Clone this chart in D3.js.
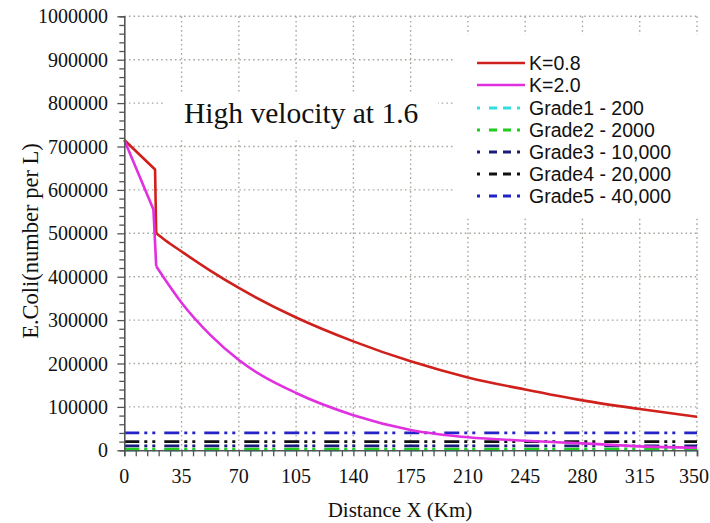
<!DOCTYPE html>
<html>
<head>
<meta charset="utf-8">
<script src="https://cdn.jsdelivr.net/npm/d3@7"></script>
<style>
  html, body { margin: 0; padding: 0; background: #fff; }
  svg { display: block; }
</style>
</head>
<body>
<svg id="chart" width="710" height="523"></svg>
<script>
// ---- data ----
const xTicks = [0, 35, 70, 105, 140, 175, 210, 245, 280, 315, 350];
const yTicks = [0, 100000, 200000, 300000, 400000, 500000, 600000, 700000, 800000, 900000, 1000000];

const distK08 = [0, 18.8, 19.5, 25, 35, 52.5, 70, 105, 140, 175, 210, 245, 280, 315, 350];
const valK08  = [715000, 647000, 500000, 484000, 458000, 414000, 374000, 306000, 251000, 205000, 168000, 140000, 115000, 95000, 77000];

const distK20 = [0, 17.8, 19.5, 25, 35, 52.5, 70, 105, 140, 175, 210, 245, 280, 315, 350];
const valK20  = [715000, 555000, 424000, 393000, 340000, 266000, 208000, 132000, 81000, 47000, 30000, 22000, 16000, 9000, 6000];

const gradeNames  = ["Grade1 - 200", "Grade2 - 2000", "Grade3 - 10,000", "Grade4 - 20,000", "Grade5 - 40,000"];
const gradeValues = [200, 2000, 10000, 20000, 40000];
const gradeColors = ["#33dede", "#1fcc1f", "#1c1c7a", "#111111", "#2323c8"];

const seriesNames  = ["K=0.8", "K=2.0"];
const seriesColors = ["#d0201c", "#e030e0"];

// ---- layout ----
const svg = d3.select("#chart");
const x = d3.scaleLinear().domain([0, 350]).range([124.3, 697]);
const y = d3.scaleLinear().domain([0, 1000000]).range([450.3, 16.3]);
const serif = "'Liberation Serif', 'Times New Roman', serif";
const sans = "'Liberation Sans', Arial, sans-serif";

// grid
const grid = svg.append("g").attr("stroke", "#a8a8a0").attr("stroke-width", 1.4).attr("stroke-dasharray", "1.6,3");
xTicks.filter(d => d > 0).forEach(d => {
  grid.append("line").attr("x1", x(d)).attr("x2", x(d)).attr("y1", y(0)).attr("y2", y(1000000));
});
yTicks.filter(d => d > 0).forEach(d => {
  grid.append("line").attr("x1", x(0)).attr("x2", x(350)).attr("y1", y(d)).attr("y2", y(d));
});

// white boxes (annotation + legend) covering the grid
svg.append("rect").attr("x", 163).attr("y", 92).attr("width", 275).attr("height", 46).attr("fill", "#fff");
svg.append("rect").attr("x", 455).attr("y", 35).attr("width", 250).attr("height", 182).attr("fill", "#fff");

// grade lines
const dashPat = "15,5,3,5,3,9";
gradeValues.forEach((v, i) => {
  svg.append("line")
    .attr("x1", x(0)).attr("x2", x(350))
    .attr("y1", y(v)).attr("y2", y(v))
    .attr("stroke", gradeColors[i])
    .attr("stroke-width", i === 1 ? 3.2 : 2.8)
    .attr("stroke-dasharray", dashPat);
});

// series lines: straight initial part + smooth decay part
function drawSeries(dist, vals, color, splitIdx) {
  const pts = dist.map((d, i) => [d, vals[i]]);
  const lin = d3.line().x(d => x(d[0])).y(d => y(d[1]));
  const smooth = d3.line().x(d => x(d[0])).y(d => y(d[1])).curve(d3.curveMonotoneX);
  svg.append("path").attr("d", lin(pts.slice(0, splitIdx + 1)))
    .attr("fill", "none").attr("stroke", color).attr("stroke-width", 2.6).attr("stroke-linejoin", "round");
  svg.append("path").attr("d", smooth(pts.slice(splitIdx)))
    .attr("fill", "none").attr("stroke", color).attr("stroke-width", 2.6).attr("stroke-linejoin", "round");
}
drawSeries(distK08, valK08, seriesColors[0], 2);
drawSeries(distK20, valK20, seriesColors[1], 2);

// axes
const axisColor = "#555";
const gx = svg.append("g").attr("transform", `translate(0,${y(0)})`)
  .call(d3.axisBottom(x).tickValues(d3.range(0, 351, 7)).tickSize(6).tickFormat(""));
const gy = svg.append("g").attr("transform", `translate(${x(0)},0)`)
  .call(d3.axisLeft(y).tickValues(d3.range(0, 1000001, 20000)).tickSize(5).tickFormat(""));
[gx, gy].forEach(g => {
  g.select(".domain").attr("stroke", axisColor).attr("stroke-width", 1.6);
  g.selectAll(".tick line").attr("stroke", axisColor).attr("stroke-width", 1.3);
});
gy.selectAll(".tick").filter(d => d % 100000 === 0).select("line").attr("x2", -7);

// tick labels
svg.append("g").selectAll("text").data(xTicks).join("text")
  .attr("x", d => d === 350 ? 709 : x(d)).attr("y", 483)
  .attr("text-anchor", d => d === 350 ? "end" : "middle")
  .attr("font-family", serif).attr("font-size", 20).attr("fill", "#111")
  .text(d => d);
svg.append("g").selectAll("text").data(yTicks).join("text")
  .attr("x", 108).attr("y", d => y(d)).attr("dy", "0.35em")
  .attr("text-anchor", "end").attr("font-family", serif).attr("font-size", 20).attr("fill", "#111")
  .text(d => d);

// axis titles
svg.append("text").attr("x", 400).attr("y", 517).attr("text-anchor", "middle")
  .attr("font-family", serif).attr("font-size", 21).attr("fill", "#111").text("Distance X (Km)");
svg.append("text").attr("transform", "translate(38,241) rotate(-90)").attr("text-anchor", "middle")
  .attr("font-family", serif).attr("font-size", 22.5).attr("fill", "#111").text("E.Coli(number per L)");

// annotation
svg.append("text").attr("x", 184).attr("y", 123)
  .attr("font-family", serif).attr("font-size", 29.5).attr("fill", "#111").text("High velocity at 1.6");

// legend
const legY = [63, 85, 108, 130, 152, 174, 196];
const legNames = seriesNames.concat(gradeNames);
const legColors = seriesColors.concat(gradeColors);
legNames.forEach((name, i) => {
  const ly = legY[i];
  const ln = svg.append("line").attr("x1", 477).attr("x2", 525).attr("y1", ly).attr("y2", ly)
    .attr("stroke", legColors[i]).attr("stroke-width", i < 2 ? 2.6 : 2.8);
  if (i >= 2) ln.attr("stroke-dasharray", "3,9,8,6,8,6");
  svg.append("text").attr("x", 529).attr("y", ly).attr("dy", "0.36em")
    .attr("font-family", sans).attr("font-size", 19.5).attr("fill", "#111").text(name);
});
</script>
</body>
</html>
